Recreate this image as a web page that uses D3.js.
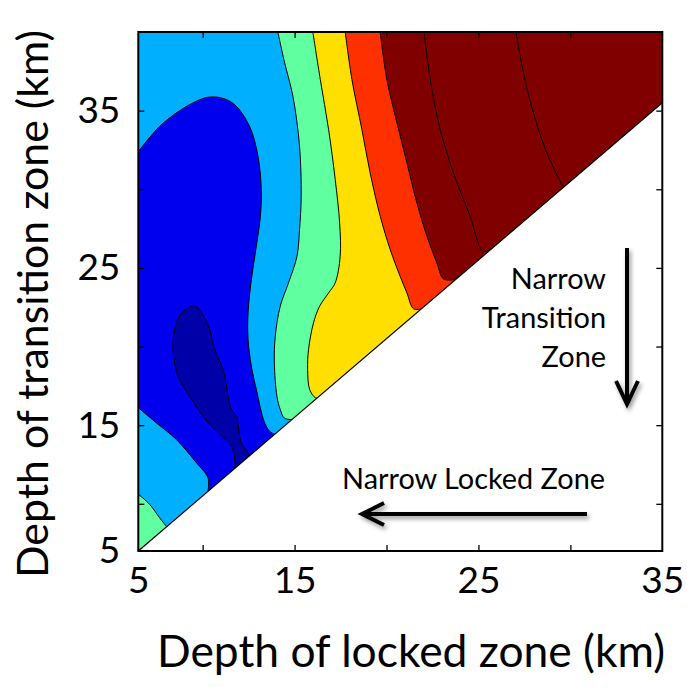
<!DOCTYPE html>
<html><head><meta charset="utf-8">
<script src="https://cdn.jsdelivr.net/npm/d3@7"></script>
<style>
body{margin:0;background:#fff}
svg{display:block}
text{font-family:Lato,"Open Sans",sans-serif;fill:#000}
</style>
</head><body><svg id="chart" width="687" height="687"></svg>
<script>
// ---------------- data ----------------
const xDomain = [6.5, 35];          // depth of locked zone (km)
const yDomain = [7, 40];            // depth of transition zone (km)
const diagonalOffset = 0.5;         // lower edge of the valid region: y = x + 0.5
const xTickValues = [6.5, 15, 25, 35];
const xTickLabels = ["5", "15", "25", "35"];
const yTickValues = [7, 15, 25, 35];
const yTickLabels = ["5", "15", "25", "35"];
const xMinorTicks = [10, 15, 20, 25, 30];
const yMinorTicks = [10, 15, 20, 25, 30, 35];

const bandColors = ["#0000A8", "#0000EE", "#00B0FF", "#60FFA0", "#FFDF00", "#FF3000", "#800000"];
// index: 0 navy, 1 blue, 2 light blue, 3 green, 4 yellow, 5 red, 6 dark red

// low-value contour regions (x, y in km)
const greenCorner = [[6.52,10.59],[7.12,9.96],[7.66,9.11],[8.03,8.56]];
const blueTop = [[6.52,32.42],[7.66,34.0],[8.75,35.0],[9.66,35.6],[10.29,35.85],[11.02,35.81],[11.74,35.38],[12.55,34.0],[13.01,32.1],[13.19,29.98],[13.14,28.28],[12.92,26.38],[12.65,24.26],[12.47,22.14],[12.47,20.45],[12.65,18.75],[12.92,17.27],[13.37,15.15],[13.64,14.62],[13.91,14.42]];
const blueBottom = [[10.29,10.80],[10.29,11.65],[9.66,12.61],[8.57,14.09],[7.48,15.15],[6.52,16.10]];
const navyRight = [[8.75,21.97],[9.51,22.61],[10.29,21.40],[10.65,19.81],[11.11,18.54],[11.56,16.0],[11.83,15.57],[12.10,13.88],[12.47,13.24],[12.54,13.04]];
const navyLeft = [[11.74,12.24],[11.74,12.94],[11.47,13.88],[10.92,14.41],[10.02,15.57],[9.29,16.84],[8.66,18.11],[8.39,19.81],[8.48,21.08],[8.75,21.97]];

// high-value contour boundaries (region to the right of each is filled)
const boundaryGreen = [[14.10,39.94],[14.46,38.04],[14.91,35.91],[15.27,32.73],[15.36,29.56],[15.27,27.44],[15.13,25.74],[14.67,24.05],[14.22,22.56],[13.95,20.65],[13.90,18.96],[14.04,16.84],[14.22,16.0],[14.45,15.45],[14.86,15.36]];
const boundaryYellow = [[16.0,39.94],[16.40,36.97],[16.85,33.80],[17.21,30.62],[17.45,27.86],[17.48,25.74],[17.21,24.05],[16.85,23.41],[16.36,22.56],[16.03,21.51],[15.76,19.81],[15.71,18.54],[15.82,17.27],[16.13,16.74],[16.24,16.74]];
const boundaryRed = [[17.76,39.94],[18.12,36.97],[18.66,33.80],[19.11,31.04],[19.66,28.28],[20.20,26.17],[20.74,24.47],[21.11,23.41],[21.47,22.40],[21.90,22.40]];
const boundaryDarkRed = [[19.66,39.94],[20.02,36.97],[20.57,34.22],[21.11,31.68],[21.65,29.14],[22.2,27.01],[22.74,25.32],[23.10,24.30],[23.76,24.26]];
const boundaryLevel6 = [[22.05,39.94],[22.38,36.97],[22.92,33.80],[23.64,31.04],[24.55,28.28],[25.27,26.06],[25.9,26.4]];
const boundaryLevel7 = [[27.05,39.94],[27.45,37.40],[27.99,34.86],[28.72,32.31],[29.62,30.12]];

// ---------------- drawing ----------------
const svg = d3.select("#chart");
const plot = {left:138.3, right:662.3, top:32, bottom:551};
const x = d3.scaleLinear().domain(xDomain).range([plot.left, plot.right]);
const y = d3.scaleLinear().domain(yDomain).range([plot.bottom, plot.top]);
const P = d => x(d[0]).toFixed(2) + "," + y(d[1]).toFixed(2);
const lineGen = d3.line().x(d => x(d[0])).y(d => y(d[1])).curve(d3.curveCatmullRom.alpha(0.5));
const seg = pts => lineGen(pts).slice(1);

const defs = svg.append("defs");
const domainPoly = [[xDomain[0], xDomain[0] + diagonalOffset], [xDomain[1], xDomain[1] + diagonalOffset], [xDomain[1], yDomain[1]], [xDomain[0], yDomain[1]]];
defs.append("clipPath").attr("id", "tri").append("path")
  .attr("d", "M" + domainPoly.map(P).join("L") + "Z");
const f = defs.append("filter").attr("id", "shadow").attr("x", "-30%").attr("y", "-30%").attr("width", "160%").attr("height", "160%");
f.append("feDropShadow").attr("dx", 2).attr("dy", 3).attr("stdDeviation", 2).attr("flood-color", "#000").attr("flood-opacity", 0.4);

const g = svg.append("g").attr("clip-path", "url(#tri)");
const cstroke = {stroke: "#000", "stroke-width": 1};
function region(d, color) {
  g.append("path").attr("d", d).attr("fill", color)
    .attr("stroke", "#000").attr("stroke-width", 1).attr("stroke-linejoin", "round");
}
// background level
g.append("path").attr("d", "M" + domainPoly.map(P).join("L") + "Z").attr("fill", bandColors[2]);

// green corner
{
  const a = greenCorner[0], b = greenCorner[greenCorner.length - 1];
  region("M" + P([a[0] - 0.6, a[1] + 0.4]) + "L" + seg(greenCorner) + "L" + P([b[0] + 0.6, b[1] - 0.6]) + "L" + P([xDomain[0] - 0.6, yDomain[0] - 1]) + "Z", bandColors[3]);
}
// blue blob
{
  const a = blueTop[0], b = blueTop[blueTop.length - 1];
  const c = blueBottom[0], e = blueBottom[blueBottom.length - 1];
  region("M" + P([a[0] - 0.6, a[1]]) + "L" + seg(blueTop) + "L" + P([b[0] + 0.6, b[1] - 0.6]) +
    "L" + P([c[0] + 0.1, c[1] - 0.6]) + "L" + seg(blueBottom) + "L" + P([e[0] - 0.6, e[1]]) + "Z", bandColors[1]);
}
// navy blob
{
  const b = navyRight[navyRight.length - 1], c = navyLeft[0];
  region("M" + seg(navyRight) + "L" + P([b[0] + 0.4, b[1] - 0.5]) + "L" + P([c[0], c[1] - 0.6]) + "L" + seg(navyLeft) + "Z", bandColors[0]);
}
// right-hand (high) levels
const highLevels = [
  [boundaryGreen, bandColors[3]],
  [boundaryYellow, bandColors[4]],
  [boundaryRed, bandColors[5]],
  [boundaryDarkRed, bandColors[6]],
  [boundaryLevel6, bandColors[6]],
  [boundaryLevel7, bandColors[6]]
];
highLevels.forEach(([pts, color]) => {
  const a = pts[0], b = pts[pts.length - 1];
  const d = "M" + P([a[0] - 0.05, yDomain[1] + 1.5]) + "L" + seg(pts) +
    "L" + P([b[0] + 1.5, b[1] - 0.5]) + "L" + P([xDomain[1] + 3, b[1] - 0.5]) +
    "L" + P([xDomain[1] + 3, yDomain[1] + 3]) + "L" + P([a[0] - 0.05, yDomain[1] + 3]) + "Z";
  region(d, color);
});

// lower diagonal edge
svg.append("line")
  .attr("x1", x(xDomain[0])).attr("y1", y(xDomain[0] + diagonalOffset))
  .attr("x2", x(xDomain[1])).attr("y2", y(xDomain[1] + diagonalOffset))
  .attr("stroke", "#000").attr("stroke-width", 1.2);

// frame
svg.append("rect").attr("x", plot.left).attr("y", plot.top)
  .attr("width", plot.right - plot.left).attr("height", plot.bottom - plot.top)
  .attr("fill", "none").attr("stroke", "#000").attr("stroke-width", 2);

// inward ticks on all four sides
const tickLen = 6;
const axB = svg.append("g").attr("transform", `translate(0,${plot.bottom})`)
  .call(d3.axisBottom(x).tickValues(xMinorTicks).tickSize(-tickLen).tickFormat(""));
const axT = svg.append("g").attr("transform", `translate(0,${plot.top})`)
  .call(d3.axisTop(x).tickValues(xMinorTicks).tickSize(-tickLen).tickFormat(""));
const axL = svg.append("g").attr("transform", `translate(${plot.left},0)`)
  .call(d3.axisLeft(y).tickValues(yMinorTicks).tickSize(-tickLen).tickFormat(""));
const axR = svg.append("g").attr("transform", `translate(${plot.right},0)`)
  .call(d3.axisRight(y).tickValues(yMinorTicks).tickSize(-tickLen).tickFormat(""));
[axB, axT, axL, axR].forEach(a => {
  a.select(".domain").remove();
  a.selectAll("line").attr("stroke", "#000").attr("stroke-width", 1.3);
});

// tick labels
const fsTick = 37;
const lblB = svg.append("g").attr("transform", `translate(0,${plot.bottom})`)
  .call(d3.axisBottom(x).tickValues(xTickValues).tickFormat((d, i) => xTickLabels[i]).tickSize(0).tickPadding(16));
const lblL = svg.append("g").attr("transform", `translate(${plot.left},0)`)
  .call(d3.axisLeft(y).tickValues(yTickValues).tickFormat((d, i) => yTickLabels[i]).tickSize(0).tickPadding(18));
[lblB, lblL].forEach(a => {
  a.select(".domain").remove();
  a.selectAll("text").attr("font-size", fsTick).attr("font-family", "Lato").attr("fill", "#000");
});

function fit(sel, target) {
  const w = sel.node().getComputedTextLength();
  const fs = parseFloat(sel.attr("font-size"));
  sel.attr("font-size", (fs * target / w).toFixed(2));
}
// axis titles
const xt = svg.append("text").attr("x", 411).attr("y", 667).attr("text-anchor", "middle")
  .attr("font-size", 44).text("Depth of locked zone (km)");
fit(xt, 508);
const yt = svg.append("text").attr("transform", "translate(48,304) rotate(-90)").attr("text-anchor", "middle")
  .attr("font-size", 44).text("Depth of transition zone (km)");
fit(yt, 548);

// annotations
const ann = svg.append("text").attr("x", 605).attr("y", 489).attr("text-anchor", "end")
  .attr("font-size", 28).text("Narrow Locked Zone");
fit(ann, 263);
const fsAnn = ann.attr("font-size");
[["Narrow", 289], ["Transition", 328], ["Zone", 367]].forEach(([t, yy]) => {
  svg.append("text").attr("x", 606).attr("y", yy).attr("text-anchor", "end")
    .attr("font-size", fsAnn).text(t);
});

// arrows
const arrows = svg.append("g").attr("filter", "url(#shadow)")
  .attr("stroke", "#000").attr("stroke-width", 4).attr("fill", "none");
arrows.append("path").attr("d", "M627,248L627,402");
arrows.append("path").attr("d", "M616,381L627,404L638,381").attr("stroke-linejoin", "miter");
arrows.append("path").attr("d", "M587,514L364,514");
arrows.append("path").attr("d", "M384,503L362,514L384,525").attr("stroke-linejoin", "miter");
</script></body></html>
